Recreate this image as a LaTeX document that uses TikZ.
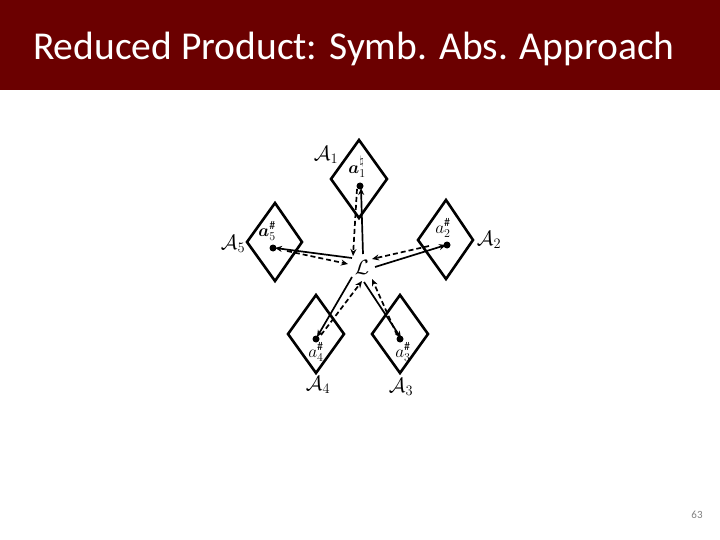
\documentclass[tikz,border=0pt]{standalone}
\usepackage{fontspec}
\setmainfont{Carlito}
\usepackage{amssymb}
\usepackage{bm}
\usetikzlibrary{arrows.meta}
\definecolor{titlered}{RGB}{107,0,0}
\begin{document}
\begin{tikzpicture}[x=1pt,y=-1pt,
  dia/.style={line width=2.6pt, line join=miter},
  dot/.style={circle, fill=black, inner sep=0pt, minimum size=7pt},
  lbl/.style={inner sep=0pt, font=\fontsize{20}{24}\selectfont},
  albl/.style={inner sep=0pt, font=\fontsize{17}{20}\selectfont},
  solidarr/.style={line width=1.7pt, -{Stealth[length=7pt,width=6pt]}},
  dasharr/.style={line width=1.7pt, dashed, dash pattern=on 5pt off 3pt, -{Stealth[length=7pt,width=6pt]}}]
\useasboundingbox (0,0) rectangle (720,540);
\fill[titlered] (0,0) rectangle (720,90);
\node[anchor=base west, inner sep=0pt, text=white, font=\fontsize{39.5}{48}\selectfont] (title) at (33,60) {Reduced Product: Symb. Abs. Approach};
\node[inner sep=0pt, text=gray, font=\fontsize{11}{13}\selectfont] (page) at (697,515) {63};
% diamonds
\draw[dia] (359,140) -- (387,179) -- (359,218) -- (331,179) -- cycle;
\draw[dia] (275,203) -- (302,242) -- (275,281) -- (247,242) -- cycle;
\draw[dia] (446,200) -- (473,240) -- (446,279) -- (418,240) -- cycle;
\draw[dia] (316,295) -- (344,334) -- (316,373) -- (288,334) -- cycle;
\draw[dia] (400,295) -- (428,334) -- (400,373) -- (372,334) -- cycle;
% nodes
\node[lbl] (L) at (362,267) {$\mathcal{L}$};
\node[dot] (d1) at (360,186) {};
\node[dot] (d5) at (273,248) {};
\node[dot] (d2) at (447,245) {};
\node[dot] (d4) at (316,339) {};
\node[dot] (d3) at (400,339) {};
% labels
\node[lbl] (A1) at (326,155) {$\mathcal{A}_1$};
\node[albl] (s1) at (357,167) {$\bm{a}_1^{\natural}$};
\node[lbl] (A5) at (233,244) {$\mathcal{A}_5$};
\node[albl] (s5) at (267,231) {$\bm{a}_5^{\#}$};
\node[lbl] (A2) at (489,240) {$\mathcal{A}_2$};
\node[albl] (s2) at (443,228) {$a_2^{\#}$};
\node[lbl] (A4) at (318,385) {$\mathcal{A}_4$};
\node[albl] (s4) at (316,352) {$a_4^{\#}$};
\node[lbl] (A3) at (401,387) {$\mathcal{A}_3$};
\node[albl] (s3) at (403,352) {$a_3^{\#}$};
% connectors: solid L -> a, dashed a -> L
\draw[solidarr] ([shift={(1,-13)}]L.center) -- ([shift={(1,2)}]d1.center);
\draw[dasharr] ([shift={(-3,3)}]d1.center) -- ([shift={(-9,-11)}]L.center);
\draw[solidarr] ([shift={(-10,-9)}]L.center) -- ([shift={(2,0)}]d5.center);
\draw[dasharr] ([shift={(14,3)}]d5.center) -- ([shift={(-14,-3)}]L.center);
\draw[solidarr] ([shift={(13,0)}]L.center) -- ([shift={(-1,0)}]d2.center);
\draw[dasharr] ([shift={(-18,1)}]d2.center) -- ([shift={(10,-8)}]L.center);
\draw[solidarr] ([shift={(-10,10)}]L.center) -- ([shift={(1,-2)}]d4.center);
\draw[dasharr] ([shift={(5,-4)}]d4.center) -- ([shift={(0,14)}]L.center);
\draw[solidarr] ([shift={(2,15)}]L.center) -- ([shift={(1,-1)}]d3.center);
\draw[dasharr] ([shift={(-3,-4)}]d3.center) -- ([shift={(10,12)}]L.center);
\end{tikzpicture}
\end{document}
